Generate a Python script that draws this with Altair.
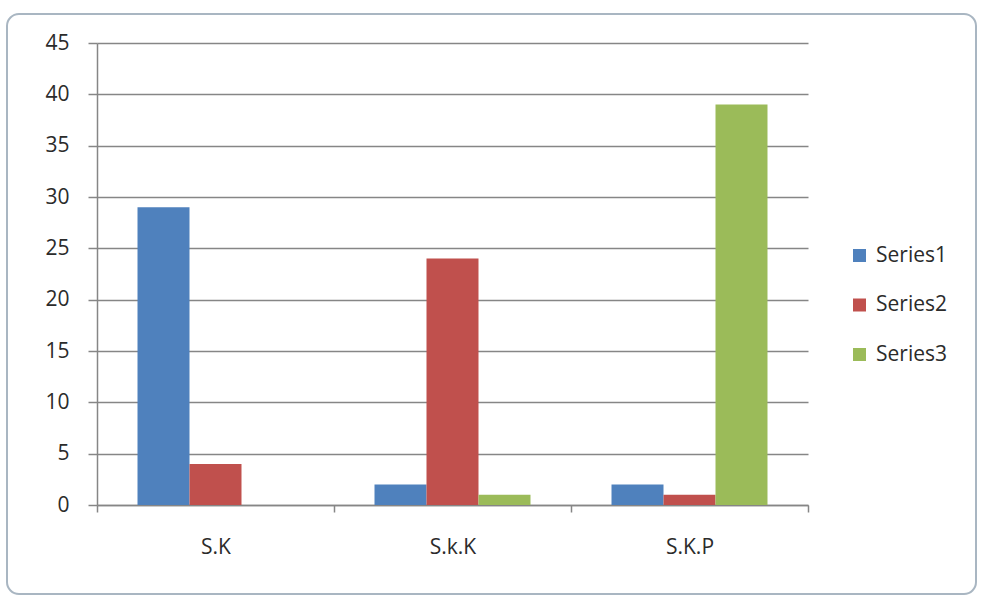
import altair as alt
import pandas as pd

categories = ["S.K", "S.k.K", "S.K.P"]
series_names = ["Series1", "Series2", "Series3"]
series1 = [29, 2, 2]
series2 = [4, 24, 1]
series3 = [0, 1, 39]
y_ticks = [0, 5, 10, 15, 20, 25, 30, 35, 40, 45]
colors = ["#4F81BD", "#C0504D", "#9BBB59"]

rows = []
for name, vals in zip(series_names, [series1, series2, series3]):
    for c, v in zip(categories, vals):
        rows.append({"category": c, "series": name, "value": v})
df = pd.DataFrame(rows)

W, H = 711, 462
FONT = "Open Sans"
TEXT = "#2b2b2b"

frame = alt.Chart(pd.DataFrame({"a": [0]})).mark_rect(
    fill="white", fillOpacity=0, stroke="#a9b6c2", strokeWidth=2, cornerRadius=12
).encode(
    x=alt.value(-90), x2=alt.value(879), y=alt.value(-29), y2=alt.value(551)
)

bars = alt.Chart(df).mark_bar().encode(
    x=alt.X(
        "category:N",
        sort=categories,
        scale=alt.Scale(paddingInner=0, paddingOuter=0),
        axis=alt.Axis(
            title=None,
            labelAngle=0,
            tickBand="extent",
            tickSize=7,
            tickColor="#868686",
            domainColor="#868686",
            domainWidth=1.5,
            tickWidth=1.5,
            labelPadding=24,
            labelFontSize=21,
            labelFont=FONT,
            labelColor=TEXT,
            grid=False,
        ),
    ),
    xOffset=alt.XOffset(
        "series:N",
        sort=series_names,
        scale=alt.Scale(paddingInner=0, paddingOuter=0.779),
    ),
    y=alt.Y(
        "value:Q",
        scale=alt.Scale(domain=[0, 45], nice=False),
        axis=alt.Axis(
            title=None,
            values=y_ticks,
            tickSize=9,
            tickColor="#868686",
            tickWidth=1.5,
            domainColor="#868686",
            domainWidth=1.5,
            gridColor="#868686",
            gridWidth=1.5,
            labelPadding=19,
            labelFontSize=21,
            labelFont=FONT,
            labelColor=TEXT,
        ),
    ),
    color=alt.Color(
        "series:N",
        sort=series_names,
        scale=alt.Scale(domain=series_names, range=colors),
        legend=alt.Legend(
            title=None,
            orient="none",
            legendX=752,
            legendY=202,
            symbolType="square",
            symbolSize=169,
            symbolStrokeWidth=0,
            labelFontSize=21,
            labelFont=FONT,
            labelColor=TEXT,
            rowPadding=27.5,
            labelOffset=6,
        ),
    ),
)

chart = alt.layer(frame, bars).properties(
    width=W,
    height=H,
    padding={"left": 97, "top": 43, "right": 174, "bottom": 99},
    autosize=alt.AutoSizeParams(type="none"),
    background="white",
).configure_view(stroke=None)

chart.save("out.html", embed_options={"renderer": "svg", "actions": False})
